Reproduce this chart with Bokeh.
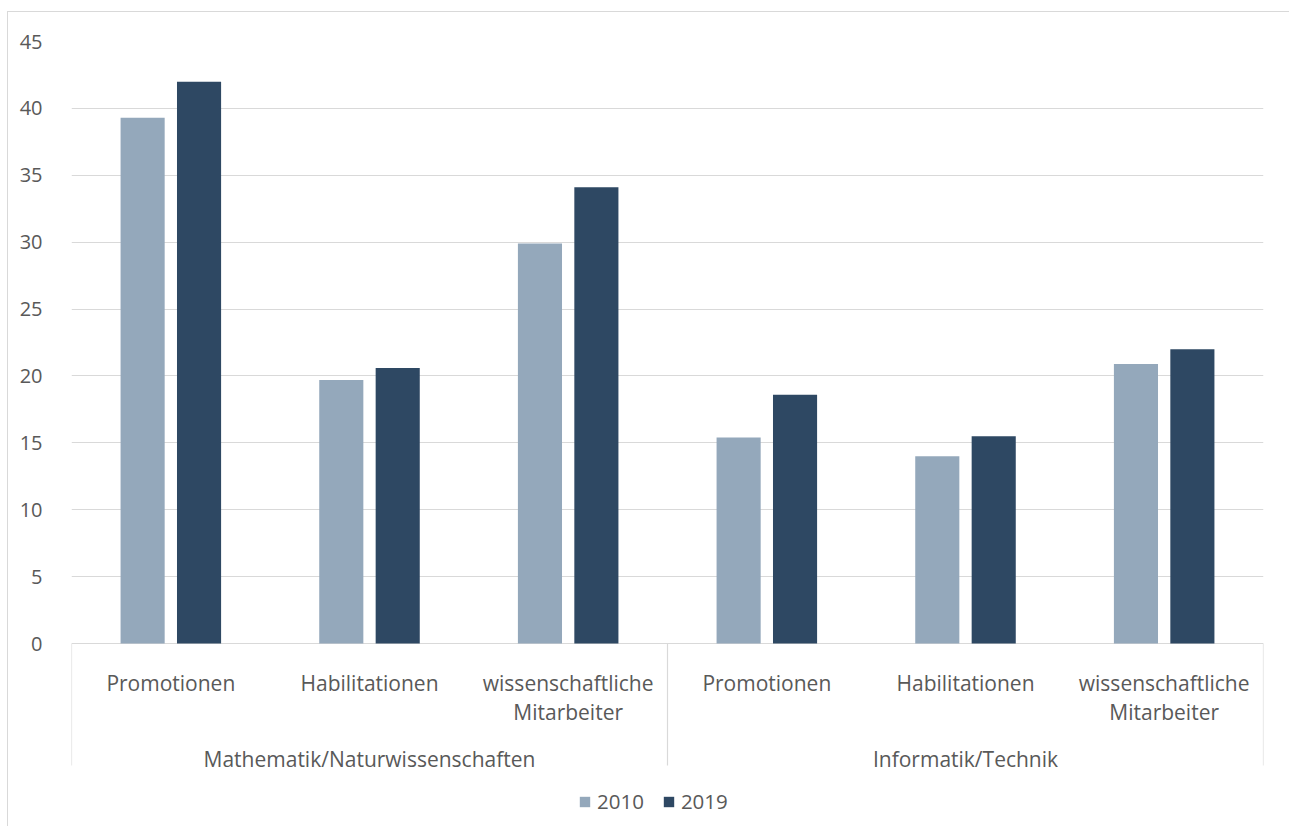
from bokeh.plotting import figure
from bokeh.models import FactorRange, FixedTicker, Legend, LegendItem, ColumnDataSource, Range1d
from bokeh.transform import dodge
from bokeh.core.properties import value
from bokeh.embed import file_html
from bokeh.resources import INLINE

# ---------------- data ----------------
groups = ["Mathematik/Naturwissenschaften", "Informatik/Technik"]
subcats = ["Promotionen", "Habilitationen", "wissenschaftliche\nMitarbeiter"]
years = ["2010", "2019"]
values_2010 = [39.3, 19.7, 29.9, 15.4, 14.0, 20.9]
values_2019 = [42.0, 20.6, 34.1, 18.6, 15.5, 22.0]
y_ticks = [0, 5, 10, 15, 20, 25, 30, 35, 40, 45]
colors = ["#94A8BB", "#2E4863"]

# ---------------- layout constants (page pixels) ----------------
OX, OY = 8, 12             # canvas origin on page (after margin + border)
FRAME_L, FRAME_R = 71, 1263
FRAME_T, FRAME_B = 41, 825
ZERO_PX = 643
W, H = 1282, 815
FONT = "Open Sans"
TXT = "#595959"
GRID = "#D9D9D9"

y_end = max(y_ticks)
s = (ZERO_PX - FRAME_T) / y_end          # pixels per unit


def ydata(py):
    return y_end - (py - FRAME_T) / s


factors = [(g, sc) for g in groups for sc in subcats]
src = ColumnDataSource(data=dict(x=factors, v2010=values_2010, v2019=values_2019))

x_range = FactorRange(*factors, range_padding=0, group_padding=0, factor_padding=0,
                      subgroup_padding=0)
y_range = Range1d(ydata(FRAME_B), y_end)

p = figure(x_range=x_range, y_range=y_range, width=W, height=H,
           output_backend="svg", toolbar_location=None, x_axis_location=None,
           min_border_left=FRAME_L - OX, min_border_top=FRAME_T - OY,
           min_border_right=W - (FRAME_R - OX), min_border_bottom=H - (FRAME_B - OY),
           margin=(11, 0, 0, 7))
p.styles = {"border-top": "1px solid #D9D9D9", "border-left": "1px solid #D9D9D9"}
p.outline_line_color = None
p.background_fill_color = "white"
p.border_fill_color = "white"

# y axis
yax = p.yaxis[0]
yax.ticker = FixedTicker(ticks=y_ticks)
yax.axis_line_color = None
yax.major_tick_line_color = None
yax.minor_tick_line_color = None
yax.major_label_standoff = 23
yax.major_label_text_font = FONT
yax.major_label_text_font_size = "20px"
yax.major_label_text_color = TXT

p.xgrid.grid_line_color = None
p.ygrid.grid_line_color = GRID
p.ygrid.grid_line_width = 1
p.ygrid.ticker = FixedTicker(ticks=y_ticks)

# bars
off, bw = 0.142, 0.222
r1 = p.vbar(x=dodge("x", -off, range=p.x_range), top="v2010", width=bw, source=src,
            fill_color=colors[0], line_color=None)
r2 = p.vbar(x=dodge("x", off, range=p.x_range), top="v2019", width=bw, source=src,
            fill_color=colors[1], line_color=None)

# category separators below the axis
sep_x = [(g, subcats[0], -0.5) for g in groups] + [(groups[-1], subcats[-1], 0.5)]
p.segment(x0=sep_x, x1=sep_x, y0=[0] * len(sep_x), y1=[ydata(765)] * len(sep_x),
          line_color=GRID, line_width=1.2)

# sub-category labels (one text row per line)
lx, ly, lt = [], [], []
for f in factors:
    for j, line in enumerate(f[1].split("\n")):
        lx.append(f)
        ly.append(ydata(682 + 29 * j))
        lt.append(line)
p.text(x=lx, y=ly, text=lt, text_font=value(FONT), text_font_size="21px",
       text_color=TXT, text_align="center", text_baseline="alphabetic")

# group labels
p.text(x=groups, y=[ydata(758)] * len(groups), text=groups, text_font=value(FONT),
       text_font_size="21px", text_color=TXT, text_align="center",
       text_baseline="alphabetic")

legend = Legend(items=[LegendItem(label=years[0], renderers=[r1]),
                       LegendItem(label=years[1], renderers=[r2])],
                orientation="horizontal", location=(578 - FRAME_L, 10),
                glyph_width=13, glyph_height=13, label_standoff=6, spacing=18,
                padding=0, margin=0, border_line_color=None,
                background_fill_alpha=0, label_text_font=FONT,
                label_text_font_size="20.5px", label_text_color=TXT)
p.add_layout(legend)

open("out.html", "w").write(file_html(p, INLINE))
